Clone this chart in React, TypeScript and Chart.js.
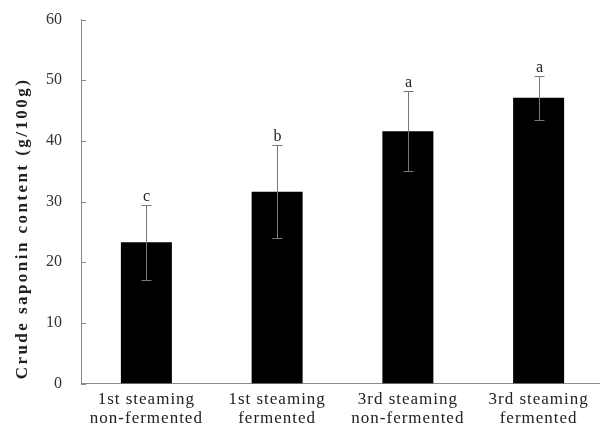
import React, { useEffect, useRef } from "react";
import { Chart, registerables } from "chart.js";

Chart.register(...registerables);

const categories: string[][] = [
  ["1st steaming", "non-fermented"],
  ["1st steaming", "fermented"],
  ["3rd steaming", "non-fermented"],
  ["3rd steaming", "fermented"],
];
const values: number[] = [23.3, 31.6, 41.6, 47.1];
const errors: number[] = [6.2, 7.65, 6.65, 3.65];
const letters: string[] = ["c", "b", "a", "a"];
const yTitle = "Crude saponin content (g/100g)";
const yMin = 0;
const yMax = 60;
const yStep = 10;

function patch(scale: any, method: string, spacing: string, dx = 0, dy = 0) {
  const key = "__patched_" + method;
  if (!scale || scale[key]) return;
  const orig = scale[method];
  scale[method] = function (...args: any[]) {
    const ctx = this.ctx as CanvasRenderingContext2D;
    ctx.save();
    (ctx as any).letterSpacing = spacing;
    ctx.translate(dx, dy);
    orig.apply(this, args);
    ctx.restore();
  };
  scale[key] = true;
}

const spacingPlugin = {
  id: "spacingPlugin",
  beforeDraw(chart: any) {
    patch(chart.scales.y, "drawTitle", "2.45px", 0, 27);
    patch(chart.scales.x, "drawLabels", "1px", 0, 0);
  },
};

const extrasPlugin = {
  id: "extrasPlugin",
  afterDraw(chart: any) {
    const ctx = chart.ctx as CanvasRenderingContext2D;
    const ys = chart.scales.y;
    // inward tick marks on y axis
    ctx.save();
    ctx.strokeStyle = "#888";
    ctx.lineWidth = 1;
    ys.ticks.forEach((t: any) => {
      const py = Math.round(ys.getPixelForValue(t.value)) + 0.5;
      ctx.beginPath();
      ctx.moveTo(ys.right, py);
      ctx.lineTo(ys.right + 5, py);
      ctx.stroke();
    });
    // error bars and letters
    const meta = chart.getDatasetMeta(0);
    meta.data.forEach((bar: any, i: number) => {
      const x = Math.round(bar.x) + 0.5;
      const yHi = Math.round(ys.getPixelForValue(values[i] + errors[i])) + 0.5;
      const yLo = Math.round(ys.getPixelForValue(values[i] - errors[i])) + 0.5;
      ctx.strokeStyle = "#777";
      ctx.lineWidth = 1;
      ctx.beginPath();
      ctx.moveTo(x, yHi);
      ctx.lineTo(x, yLo);
      ctx.moveTo(x - 5, yHi);
      ctx.lineTo(x + 5, yHi);
      ctx.moveTo(x - 5, yLo);
      ctx.lineTo(x + 5, yLo);
      ctx.stroke();
      ctx.fillStyle = "#222";
      ctx.font = "16px 'Liberation Serif', serif";
      ctx.textAlign = "center";
      ctx.textBaseline = "alphabetic";
      ctx.fillText(letters[i], x, yHi - 5);
    });
    ctx.restore();
  },
};

export default function App() {
  const ref = useRef<HTMLCanvasElement | null>(null);
  useEffect(() => {
    document.body.style.margin = "0";
    const canvas = ref.current!;
    const chart = new Chart(canvas, {
      type: "bar",
      data: {
        labels: categories,
        datasets: [
          {
            data: values,
            backgroundColor: "#000",
            borderWidth: 0,
            barPercentage: 0.39,
            categoryPercentage: 1.0,
          },
        ],
      },
      options: {
        animation: false,
        responsive: false,
        devicePixelRatio: 1,
        layout: { padding: { top: 19.5, right: 0, bottom: 0, left: 0 } },
        plugins: {
          legend: { display: false },
          tooltip: { enabled: false },
          title: { display: false },
        },
        scales: {
          x: {
            grid: { display: false, drawTicks: false },
            border: { display: true, color: "#8a8a8a", width: 1 },
            ticks: {
              color: "#222",
              padding: 7,
              maxRotation: 0,
              autoSkip: false,
              font: { family: "'Liberation Serif', serif", size: 17, lineHeight: 1.1 },
            },
            afterFit: (s: any) => {
              s.height = 55.5;
            },
          },
          y: {
            min: yMin,
            max: yMax,
            grid: { display: false, drawTicks: false },
            border: { display: true, color: "#8a8a8a", width: 1 },
            ticks: {
              stepSize: yStep,
              color: "#333",
              padding: 19,
              font: { family: "'Liberation Serif', serif", size: 16 },
            },
            title: {
              display: true,
              text: yTitle,
              color: "#222",
              padding: { top: 12, bottom: 0 },
              font: { family: "'Liberation Serif', serif", size: 17, weight: "bold" },
            },
            afterFit: (s: any) => {
              s.width = 81;
              s.paddingTop = 0;
              s.paddingBottom = 0;
            },
          },
        },
      },
      plugins: [spacingPlugin, extrasPlugin],
    } as any);
    return () => chart.destroy();
  }, []);
  return (
    <div
      style={{
        position: "fixed",
        left: 0,
        top: 0,
        width: 600,
        height: 439,
        overflow: "hidden",
        background: "#fff",
      }}
    >
      <canvas ref={ref} width={604} height={439} style={{ display: "block" }} />
    </div>
  );
}
